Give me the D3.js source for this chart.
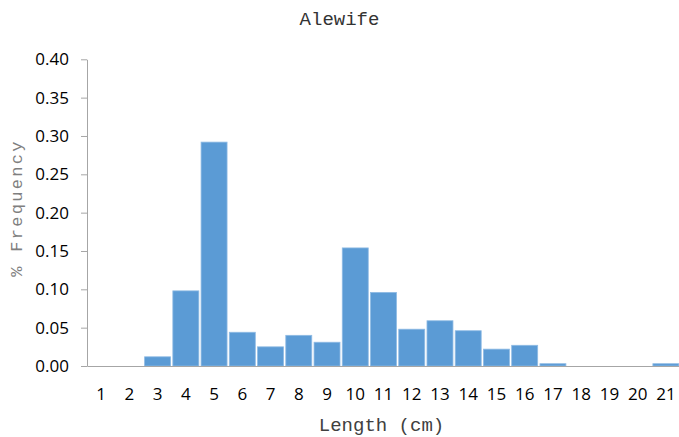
<!DOCTYPE html>
<html>
<head>
<meta charset="utf-8">
<script src="https://cdn.jsdelivr.net/npm/d3@7/dist/d3.min.js"></script>
<style>
  html, body { margin: 0; padding: 0; background: #fff; }
  svg { display: block; }
</style>
</head>
<body>
<svg id="chart" width="679" height="437"></svg>
<script>
const categories = ["1","2","3","4","5","6","7","8","9","10","11","12","13","14","15","16","17","18","19","20","21"];
const frequency = [0, 0, 0.012, 0.098, 0.292, 0.044, 0.025, 0.040, 0.031, 0.154, 0.096, 0.048, 0.059, 0.046, 0.022, 0.027, 0.003, 0, 0, 0, 0.003];
const yTicks = [0, 0.05, 0.10, 0.15, 0.20, 0.25, 0.30, 0.35, 0.40];
const titleText = "Alewife";
const xLabel = "Length (cm)";
const yLabel = "% Frequency";

const svg = d3.select("#chart");
const plotLeft = 87, plotRight = 680, plotTop = 59.3, plotBottom = 366;
const monoFont = "'Courier New', 'Nimbus Mono PS', 'FreeMono', 'Liberation Mono', monospace";

const x = d3.scaleBand().domain(categories).range([plotLeft, plotRight]).paddingInner(0.08).paddingOuter(0.04);
const y = d3.scaleLinear().domain([0, 0.4]).range([plotBottom, plotTop]);

const data = categories.map((c, i) => ({c, v: frequency[i]}));

svg.append("g").selectAll("rect").data(data.filter(d => d.v > 0)).join("rect")
  .attr("x", d => x(d.c))
  .attr("width", x.bandwidth())
  .attr("y", d => y(d.v))
  .attr("height", d => y(0) - y(d.v))
  .attr("fill", "#5b9bd5")
  .attr("stroke", "#8fbbe4")
  .attr("stroke-width", 0.8);

const axisColor = "#a6a6a6";

const yAxis = svg.append("g").attr("transform", `translate(${plotLeft},0)`)
  .call(d3.axisLeft(y).tickValues(yTicks).tickFormat(d3.format(".2f")).tickSize(6).tickSizeOuter(0).tickPadding(12));
yAxis.selectAll("path, line").attr("stroke", axisColor);
yAxis.selectAll("text").attr("font-family", "'Open Sans', sans-serif").attr("font-size", 17).attr("fill", "#000");

const xAxis = svg.append("g").attr("transform", `translate(0,${plotBottom})`)
  .call(d3.axisBottom(x).tickSize(0).tickSizeOuter(0).tickPadding(22));
xAxis.selectAll("path").attr("stroke", axisColor);
xAxis.selectAll("text").attr("font-family", "'Open Sans', sans-serif").attr("font-size", 17).attr("fill", "#000");

svg.append("text").attr("x", 339.5).attr("y", 25).attr("text-anchor", "middle")
  .attr("font-family", monoFont).attr("font-size", 19).attr("fill", "#333")
  .text(titleText);

svg.append("text").attr("x", 381.5).attr("y", 431).attr("text-anchor", "middle")
  .attr("font-family", monoFont).attr("font-size", 19).attr("fill", "#404040")
  .text(xLabel);

svg.append("text").attr("transform", "translate(22,208) rotate(-90)").attr("text-anchor", "middle")
  .attr("font-family", monoFont).attr("font-size", 17).attr("letter-spacing", 2.3)
  .attr("fill", "#7f7f7f")
  .text(yLabel);
</script>
</body>
</html>
